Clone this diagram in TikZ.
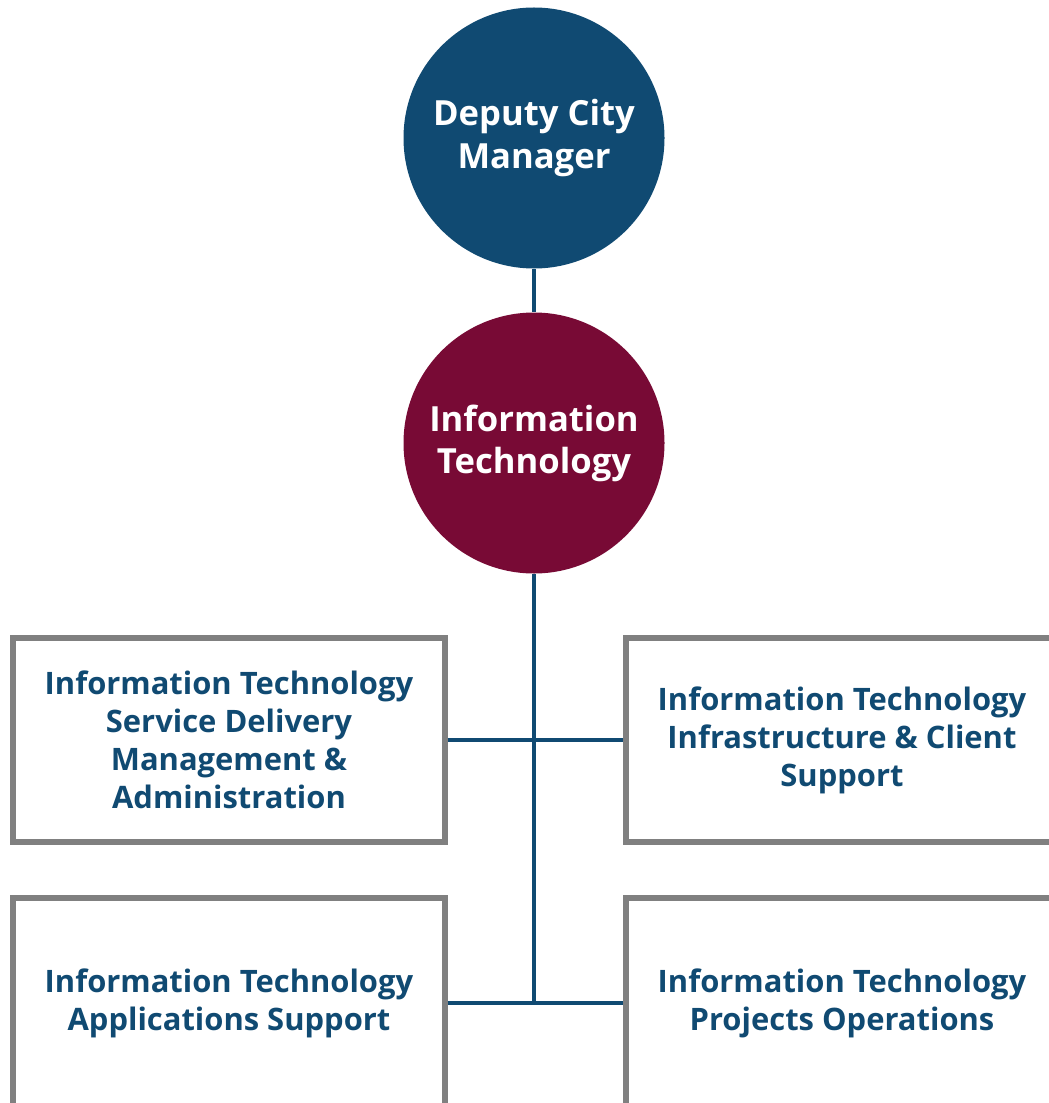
\documentclass[tikz,border=0pt]{standalone}
\usepackage{fontspec}
\setmainfont{Open Sans}
\setsansfont{Open Sans}
\usetikzlibrary{positioning}
\definecolor{cityblue}{RGB}{16,74,114}
\definecolor{itmaroon}{RGB}{120,10,53}
\definecolor{boxgray}{RGB}{128,128,128}
\tikzset{
  every node/.style={font=\sffamily\bfseries},
  head/.style={circle, inner sep=0pt, minimum size=5.22cm, text=white,
    align=center, font=\sffamily\bfseries\fontsize{19.7}{24}\selectfont},
  blue head/.style={head, fill=cityblue},
  red head/.style={head, fill=itmaroon},
  unit/.style={rectangle, draw=boxgray, fill=white, line width=3pt,
    minimum width=8.64cm, text=cityblue, align=center,
    font=\sffamily\bfseries\fontsize{17.6}{21.6}\selectfont},
  link/.style={draw=cityblue, line width=2.5pt}
}

\begin{document}
\begin{tikzpicture}
  \useasboundingbox (0,0) rectangle (20.96,-22.06);

  % reporting line
  \node[blue head] (dcm) at (10.68,-2.76) {Deputy City\\Manager};
  \node[red head] (it) at (10.68,-8.86) {Information\\Technology};

  % divisions
  \node[unit, minimum height=4.08cm] (sd) at (4.58,-14.8)
    {Information Technology\\Service Delivery\\Management \&\\Administration};
  \node[unit, minimum height=4.08cm] (ic) at (16.84,-14.8)
    {Information Technology\\Infrastructure \& Client\\Support};
  \node[unit, minimum height=4.2cm] (ap) at (4.58,-20.06)
    {Information Technology\\Applications Support};
  \node[unit, minimum height=4.2cm] (po) at (16.84,-20.06)
    {Information Technology\\Projects Operations};

  \coordinate (end) at (it.south |- ap.east);
  \draw[link] (dcm) -- (it);
  \draw[link] (it) -- (end);
  \draw[link] (sd) -- (ic);
  \draw[link] (ap) -- (po);

\end{tikzpicture}
\end{document}
